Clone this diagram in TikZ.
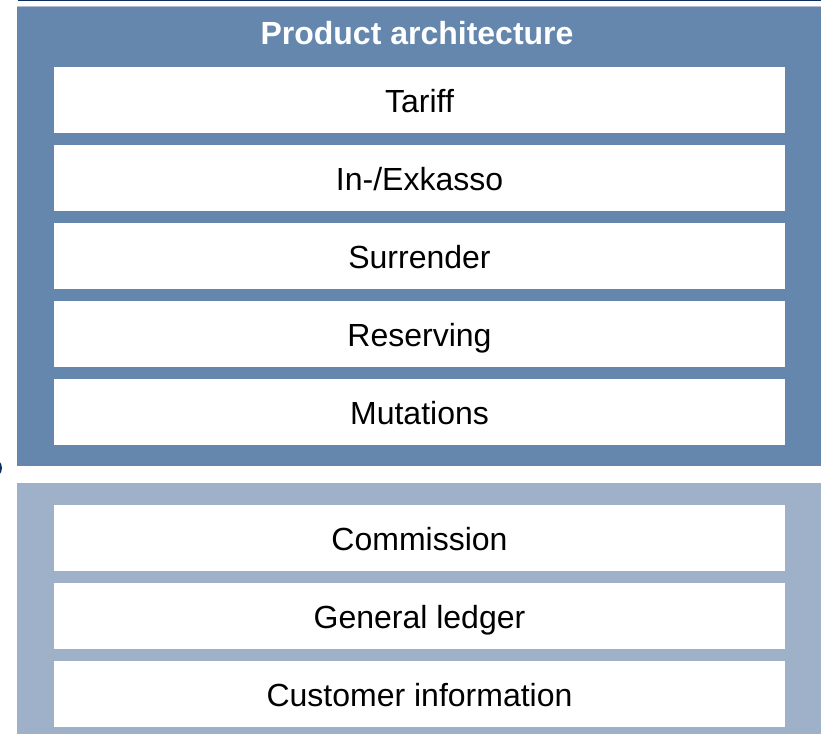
\documentclass[tikz,border=0pt]{standalone}
\usepackage{fontspec}
\setmainfont{Liberation Sans}
\definecolor{navyline}{RGB}{12,46,96}
\definecolor{panelDark}{RGB}{101,135,174}
\definecolor{panelLight}{RGB}{158,177,201}
\definecolor{panelEdge}{RGB}{178,190,208}
\tikzset{
  itembox/.style={fill=white, draw=none, inner sep=0pt,
    minimum width=731bp, minimum height=65.5bp,
    text height=25bp, text depth=0bp,
    font=\fontsize{32bp}{36bp}\selectfont, text=black},
  paneltitle/.style={inner sep=0pt, anchor=base, text=white,
    font=\fontsize{32bp}{36bp}\selectfont\bfseries}
}
\begin{document}
\begin{tikzpicture}[x=1bp, y=-1bp]
  \useasboundingbox (0,0) rectangle (821,734);
  % rule along the top edge
  \fill[navyline] (18,0) rectangle (821,1.4);
  % small mark at the left margin
  \fill[navyline] (-8,468) circle (10);
  % upper panel: product architecture
  \fill[panelEdge] (17,6) rectangle (821,7.2);
  \fill[panelDark] (17,7.2) rectangle (821,466);
  \node[paneltitle] (title) at (417,44.3) {Product architecture};
  \node[itembox] (tariff)    at (419.5,100) {Tariff};
  \node[itembox] (inexkasso) at (419.5,178) {In-/Exkasso};
  \node[itembox] (surrender) at (419.5,256) {Surrender};
  \node[itembox] (reserving) at (419.5,334) {Reserving};
  \node[itembox] (mutations) at (419.5,412) {Mutations};
  % lower panel: surrounding systems
  \fill[panelLight] (17,483) rectangle (821,734);
  \node[itembox] (commission) at (419.5,538) {Commission};
  \node[itembox] (ledger)     at (419.5,616) {General ledger};
  \node[itembox] (customer)   at (419.5,694) {Customer information};
\end{tikzpicture}
\end{document}
